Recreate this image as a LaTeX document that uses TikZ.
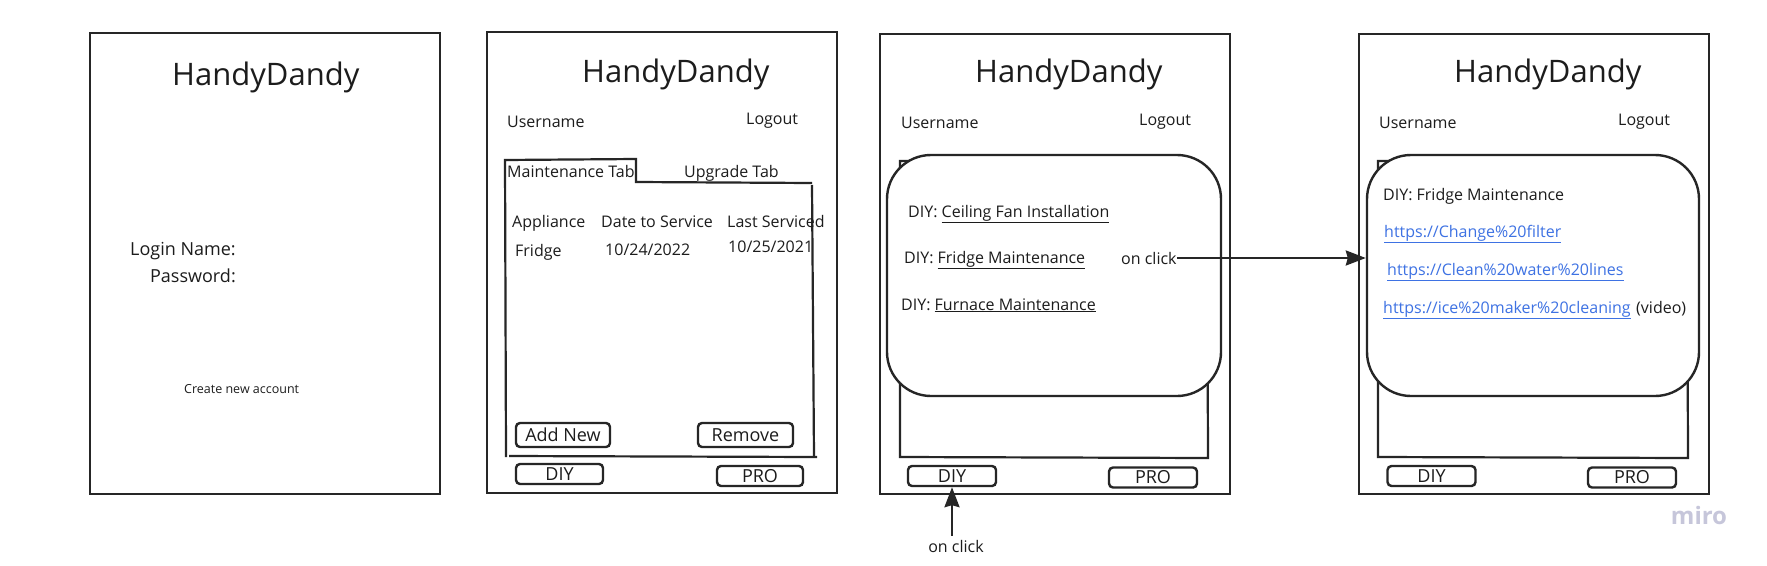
\documentclass[tikz,border=0pt]{standalone}
\usepackage{fontspec}
\setmainfont{Open Sans}
\usetikzlibrary{arrows.meta}
\definecolor{ink}{RGB}{38,38,38}
\definecolor{txtc}{RGB}{28,28,28}
\definecolor{linkc}{RGB}{62,114,227}
\definecolor{logoc}{RGB}{198,198,218}
\tikzset{
  frame/.style={draw=ink, line width=2.6pt},
  panel/.style={draw=ink, line width=2.2pt},
  popup/.style={draw=ink, line width=2.4pt, fill=white, rounded corners=44pt, inner sep=0pt},
  txtsix/.style={anchor=base west, inner sep=0pt, text=txtc, font=\fontsize{16}{19}\selectfont},
  txteight/.style={anchor=base west, inner sep=0pt, text=txtc, font=\fontsize{18}{21}\selectfont},
  txtsmall/.style={anchor=base west, inner sep=0pt, text=txtc, font=\fontsize{12.5}{15}\selectfont},
  ttl/.style={anchor=base west, inner sep=0pt, text=txtc, font=\fontsize{31}{36}\selectfont},
  linktxt/.style={txtsix, text=linkc},
  btn/.style={draw=ink, line width=2.4pt, rounded corners=4pt, inner sep=0pt, text=txtc,
    font=\fontsize{18}{21}\selectfont, text height=13pt, text depth=1pt},
  arr/.style={draw=ink, line width=2.4pt, -{Stealth[length=20pt,width=15pt,inset=2pt]}}
}
\begin{document}
\begin{tikzpicture}[x=1pt,y=-1pt]
\useasboundingbox[fill=white] (0,0) rectangle (1767,565);

% ---------- Screen 1 ----------
\draw[frame] (90,33) rectangle (440,494);
\node[ttl] (t1) at (172,85) {HandyDandy};
\node[txteight] (login) at (130,255) {Login Name:};
\node[txteight, anchor=base east] (pw) at (236,282) {Password:};
\node[txtsmall] (create) at (184,393) {Create new account};

% ---------- Screen 2 ----------
\draw[frame] (487,32) rectangle (837,493);
\node[ttl] (t2) at (582,82) {HandyDandy};
\node[txtsix] (user2) at (507,127) {Username};
\node[txtsix] (logout2) at (746,124) {Logout};
\draw[panel] (506,457) -- (505,160) -- (636,159) -- (636,182) -- (812,183);
\draw[panel] (812,185) -- (814,457);
\draw[panel] (509,456) -- (817,457);
\node[txtsix] (mtab) at (507,177) {Maintenance Tab};
\node[txtsix] (utab) at (684,177) {Upgrade Tab};
\node[txtsix] (h1) at (512,227) {Appliance};
\node[txtsix] (h2) at (601,227) {Date to Service};
\node[txtsix] (h3) at (727,227) {Last Serviced};
\node[txtsix] (c1) at (515,256) {Fridge};
\node[txtsix] (c2) at (605,255) {10/24/2022};
\node[txtsix] (c3) at (728,252) {10/25/2021};
\node[btn, minimum width=94pt, minimum height=24pt] (addnew) at (563,435) {Add New};
\node[btn, minimum width=95pt, minimum height=24pt] (remove) at (745.5,435) {Remove};
\node[btn, minimum width=87pt, minimum height=20pt] (diy2) at (559.5,474) {DIY};
\node[btn, minimum width=86pt, minimum height=20pt] (pro2) at (760,476) {PRO};

% ---------- Screen 3 ----------
\draw[frame] (880,34) rectangle (1230,494);
\node[ttl] (t3) at (975,82.5) {HandyDandy};
\node[txtsix] (user3) at (901,128) {Username};
\node[txtsix] (logout3) at (1139,125) {Logout};
\draw[panel] (900,161) -- (1030,161) -- (1030,185) -- (1207,186) -- (1208,458) -- (900,457) -- cycle;
\node[popup, minimum width=334pt, minimum height=241pt] (pop3) at (1054,275.5) {};
\node[txtsix] (d1) at (908,217) {DIY: \underline{Ceiling Fan Installation}};
\node[txtsix] (d2) at (904,263) {DIY: \underline{Fridge Maintenance}};
\node[txtsix] (oc1) at (1121,264) {on click};
\node[txtsix] (d3) at (901,310) {DIY: \underline{Furnace Maintenance}};
\node[btn, minimum width=88pt, minimum height=20pt] (diy3) at (952,476) {DIY};
\node[btn, minimum width=88pt, minimum height=20pt] (pro3) at (1153,477.5) {PRO};
\node[txtsix, anchor=base] (oc2) at (956,552) {on click};

% ---------- Screen 4 ----------
\draw[frame] (1359,34) rectangle (1709,494);
\node[ttl] (t4) at (1454,82.5) {HandyDandy};
\node[txtsix] (user4) at (1379,128) {Username};
\node[txtsix] (logout4) at (1618,125) {Logout};
\draw[panel] (1378,161) -- (1508,161) -- (1508,185) -- (1687,186) -- (1688,458) -- (1378,457) -- cycle;
\node[popup, minimum width=332pt, minimum height=241pt] (pop4) at (1533,275.5) {};
\node[txtsix] (f0) at (1383,200) {DIY: Fridge Maintenance};
\node[linktxt] (l1) at (1384,237) {\underline{https://Change\%20filter}};
\node[linktxt] (l2) at (1387,275) {\underline{https://Clean\%20water\%20lines}};
\node[linktxt] (l3) at (1383,313) {\underline{https://ice\%20maker\%20cleaning}};
\node[txtsix] (vid) at (1636,313) {(video)};
\node[btn, minimum width=88pt, minimum height=20pt] (diy4) at (1431.5,476) {DIY};
\node[btn, minimum width=88pt, minimum height=20pt] (pro4) at (1632,477.5) {PRO};
\node[anchor=base, inner sep=0pt, text=logoc, font=\fontsize{24}{28}\selectfont\bfseries] (miro) at (1699,524) {miro};

% ---------- connectors ----------
\draw[arr] (oc1.east) -- (oc1.east -| pop4.west);
\draw[arr, shorten <=4pt] (diy3.south |- oc2.north) -- (diy3.south);
\end{tikzpicture}
\end{document}
